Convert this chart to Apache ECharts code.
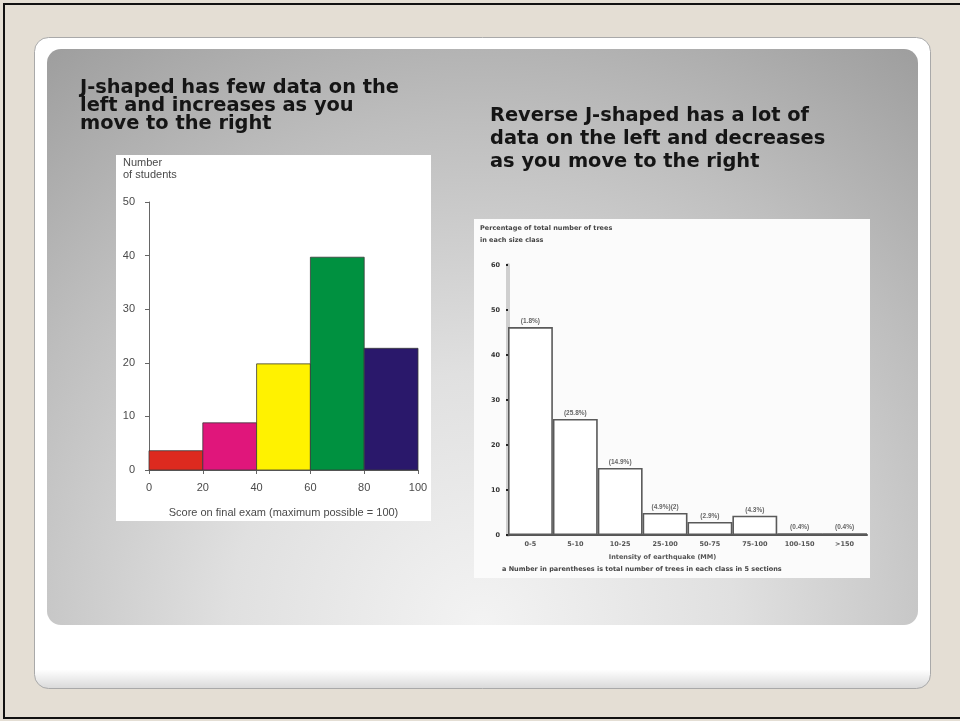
<!DOCTYPE html>
<html><head><meta charset="utf-8">
<script src="https://cdn.jsdelivr.net/npm/echarts@6/dist/echarts.min.js"></script>
<style>
html,body{margin:0;padding:0;background:#e4ded4;}
#main{position:absolute;left:0;top:0;width:960px;height:721px;}
#right{position:absolute;left:474px;top:219px;width:396px;height:359px;filter:blur(0.55px);}
</style></head><body>
<div id="main"></div>
<div id="right"></div>
<script>
// ---- Left histogram data (J-shaped) ----
const scoreBinStart = [0, 20, 40, 60, 80];
const scoreBinEnd   = [20, 40, 60, 80, 100];
const studentCounts = [3.6, 8.8, 19.8, 39.7, 22.7];
const binColors     = ['#dd2a1f', '#e0167b', '#fff200', '#009140', '#2a186b'];

// ---- Right histogram data (reverse J-shaped) ----
const intensityClasses = ['0-5', '5-10', '10-25', '25-100', '50-75', '75-100', '100-150', '>150'];
const percentValues    = [46.2, 25.8, 14.9, 4.9, 2.9, 4.3, 0.4, 0.4];
const percentLabels    = ['(1.8%)', '(25.8%)', '(14.9%)', '(4.9%)(2)', '(2.9%)', '(4.3%)', '(0.4%)', '(0.4%)'];

// ---- Slide text ----
const leftHeading  = 'J-shaped has few data on the\nleft and increases as you\nmove to the right';
const rightHeading = 'Reverse J-shaped has a lot of\ndata on the left and decreases\nas you move to the right';

const main = echarts.init(document.getElementById('main'), null, {renderer: 'canvas'});
const bold = 'bold 19.4px "DejaVu Sans", Verdana, sans-serif';

main.setOption({
  animation: false,
  graphic: [
    // slide frame
    {type: 'rect', z: -10, shape: {x: 4, y: 4, width: 960, height: 714},
     style: {fill: '#e4ded4', stroke: '#111', lineWidth: 2}},
    // white panel
    {type: 'rect', z: -9, shape: {x: 34.5, y: 37.5, width: 896, height: 651, r: 14},
     style: {fill: {type: 'linear', x: 0, y: 0, x2: 0, y2: 1, colorStops: [
       {offset: 0, color: '#ffffff'}, {offset: 0.97, color: '#ffffff'}, {offset: 1, color: '#d8d8d8'}]},
       stroke: '#a9a9a9', lineWidth: 1}},
    // grey gradient panel
    {type: 'rect', z: -8, shape: {x: 47, y: 49, width: 871, height: 576, r: 14},
     style: {fill: {type: 'radial', x: 0.5, y: 1.0, r: 1.25, colorStops: [
       {offset: 0, color: '#f3f3f3'}, {offset: 0.35, color: '#e0e0e0'},
       {offset: 0.7, color: '#bebebe'}, {offset: 1, color: '#9e9e9e'}]}}},
    // chart backgrounds
    {type: 'rect', z: -7, shape: {x: 116, y: 155, width: 315, height: 366}, style: {fill: '#ffffff'}},
    {type: 'rect', z: -7, shape: {x: 474, y: 219, width: 396, height: 359}, style: {fill: '#fbfbfb'}},
    // headings
    {type: 'text', left: 80, top: 78, style: {text: leftHeading, font: bold, lineHeight: 18, fill: '#151515'}},
    {type: 'text', left: 490, top: 104, style: {text: rightHeading, font: bold, lineHeight: 23, fill: '#151515'}},
    // left y axis name
    {type: 'text', left: 123, top: 157, style: {text: 'Number\nof students', font: '11px "Liberation Sans", Arial, sans-serif', lineHeight: 12, fill: '#4a4a4a'}}
  ],
  grid: [{left: 149, top: 202, width: 269, height: 268}],
  xAxis: [{
    type: 'value', min: 0, max: 100, interval: 20,
    name: 'Score on final exam (maximum possible = 100)', nameLocation: 'middle', nameGap: 37,
    nameTextStyle: {color: '#4a4a4a', fontSize: 11, fontFamily: '"Liberation Sans", Arial'},
    axisLine: {show: true, lineStyle: {color: '#666'}},
    axisTick: {show: true, length: 4, lineStyle: {color: '#666'}},
    axisLabel: {color: '#4a4a4a', fontSize: 11, margin: 12, fontFamily: '"Liberation Sans", Arial'},
    splitLine: {show: false}
  }],
  yAxis: [{
    type: 'value', min: 0, max: 50, interval: 10,
    axisLine: {show: true, lineStyle: {color: '#666'}},
    axisTick: {show: true, length: 4, lineStyle: {color: '#666'}},
    axisLabel: {color: '#4a4a4a', fontSize: 11, margin: 14, fontFamily: '"Liberation Sans", Arial'},
    splitLine: {show: false}
  }],
  series: [{
    type: 'custom',
    data: scoreBinStart.map((s, i) => [s, scoreBinEnd[i], studentCounts[i]]),
    encode: {x: [0, 1], y: 2},
    renderItem: function (params, api) {
      const p0 = api.coord([api.value(0), api.value(2)]);
      const p1 = api.coord([api.value(1), 0]);
      return {type: 'rect', shape: {x: p0[0], y: p0[1], width: p1[0] - p0[0], height: p1[1] - p0[1]},
        style: {fill: binColors[params.dataIndex], stroke: '#3a3a3a', lineWidth: 0.8}};
    }
  }]
});

// ---- Right chart ----
const right = echarts.init(document.getElementById('right'), null, {renderer: 'canvas'});
const tiny = {fontSize: 6.5, fontWeight: 'bold', color: '#555', fontFamily: '"DejaVu Sans", sans-serif'};
right.setOption({
  animation: false,
  graphic: [
    {type: 'text', left: 6, top: 3, style: Object.assign({text: 'Percentage of total number of trees\nin each size class', lineHeight: 12}, tiny, {fill: '#444'})},
    {type: 'text', left: 28, top: 347, style: Object.assign({text: 'a Number in parentheses is total number of trees in each class in 5 sections'}, tiny, {fill: '#444'})}
  ],
  grid: {left: 34, right: 3, top: 46, bottom: 43},
  xAxis: {
    type: 'category', data: intensityClasses,
    name: 'Intensity of earthquake (MM)', nameLocation: 'middle', nameGap: 19,
    nameTextStyle: Object.assign({padding: [0, 50, 0, 0]}, tiny),
    axisLine: {lineStyle: {color: '#555', width: 2}},
    axisTick: {show: false},
    axisLabel: Object.assign({margin: 6}, tiny)
  },
  yAxis: {
    type: 'value', min: 0, max: 60, interval: 10,
    axisLine: {show: true, lineStyle: {color: '#cfcfcf', width: 4}},
    axisTick: {show: true, length: 2, lineStyle: {color: '#222', width: 2}},
    axisLabel: Object.assign({margin: 8}, tiny, {color: '#333'}),
    splitLine: {show: false}
  },
  series: [{
    type: 'bar', data: percentValues, barCategoryGap: '0%',
    itemStyle: {color: '#ffffff', borderColor: '#5a5a5a', borderWidth: 1.6},
    label: {show: true, position: 'top', distance: 2, formatter: p => percentLabels[p.dataIndex], fontSize: 6.5, fontWeight: 'bold', color: '#666'}
  }]
});
</script>
</body></html>
